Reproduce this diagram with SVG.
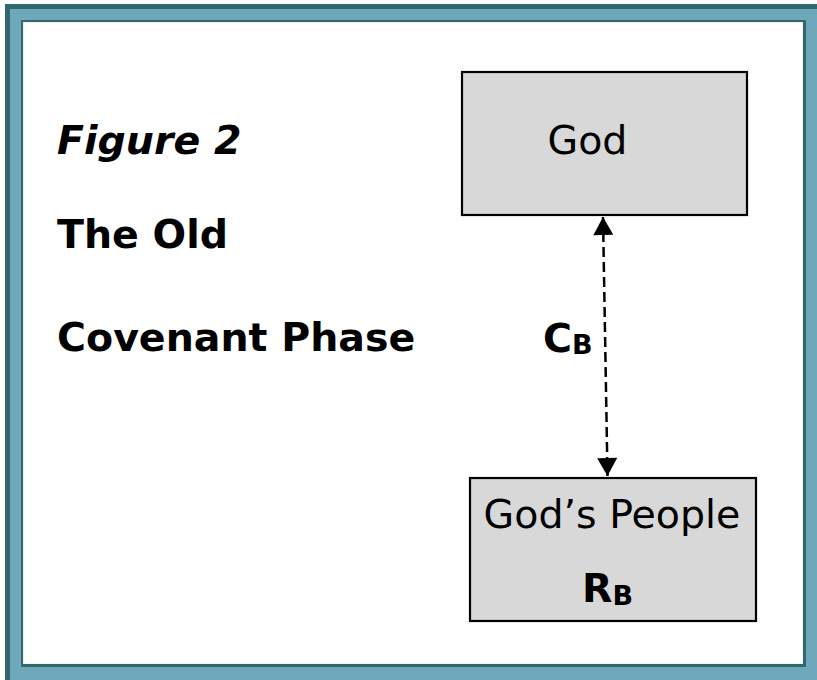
<svg xmlns="http://www.w3.org/2000/svg" width="817" height="680" viewBox="0 0 817 680">
  <style>
    .box { fill: #d8d8d8; stroke: #000; stroke-width: 2.2; }
    .lbl { font-family: "DejaVu Sans", Verdana, sans-serif; font-size: 39.5px; fill: #000; }
    .bold { font-weight: bold; }
    .title { font-family: "DejaVu Sans", Verdana, sans-serif; font-size: 39.5px; font-weight: bold; fill: #000; }
    .sub { font-size: 27px; }
    .conn { stroke: #000; stroke-width: 2.5; stroke-dasharray: 10 5; fill: none; }
  </style>
  <defs>
    <marker id="arr" markerUnits="userSpaceOnUse" markerWidth="20" markerHeight="20" viewBox="0 0 18 20" refX="18" refY="10" orient="auto-start-reverse">
      <path d="M0,0 L18,10 L0,20 Z" fill="#000"/>
    </marker>
  </defs>
  <rect width="817" height="680" fill="#ffffff"/>
  <g id="frame">
    <rect x="5" y="4" width="820" height="690" fill="#31686d"/>
    <rect x="10" y="9" width="815" height="685" fill="#6fa8ba"/>
    <rect x="21" y="20" width="785" height="647" fill="#31686d"/>
    <rect x="23" y="22" width="780" height="642" fill="#e2e6e6"/>
    <rect x="23.6" y="22.6" width="779" height="641" fill="#ffffff"/>
  </g>
  <g id="title">
    <text class="title" x="57" y="154" font-style="italic">Figure 2</text>
    <text class="title" x="57" y="248">The Old</text>
    <text class="title" x="57" y="351">Covenant Phase</text>
  </g>
  <g id="god">
    <rect class="box" x="462" y="72" width="285" height="143"/>
    <text class="lbl" x="587.5" y="154" text-anchor="middle">God</text>
  </g>
  <g id="people">
    <rect class="box" x="470" y="478" width="286" height="143"/>
    <text class="lbl" x="612" y="528" text-anchor="middle">God’s People</text>
    <text class="lbl bold" x="582" y="602">R<tspan class="sub" dy="3">B</tspan></text>
  </g>
  <g id="connectors">
    <path class="conn" d="M603,217 L607.5,476" marker-start="url(#arr)" marker-end="url(#arr)"/>
    <text class="lbl bold" x="543" y="352">C<tspan class="sub" dy="2">B</tspan></text>
  </g>
</svg>
